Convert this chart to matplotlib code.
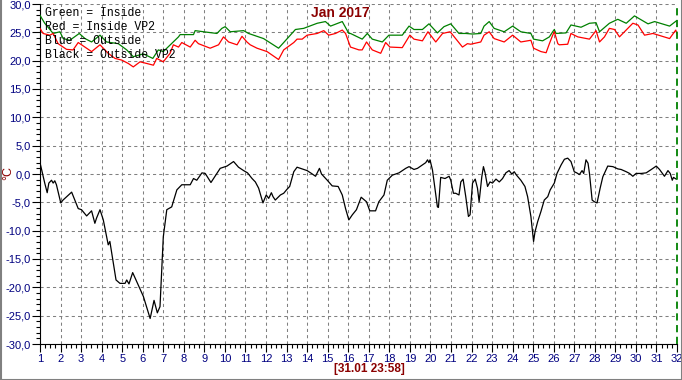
import numpy as np
import matplotlib
matplotlib.use("Agg")
import matplotlib.pyplot as plt
import matplotlib.ticker as mticker
from matplotlib.lines import Line2D

# ─── Daten (Tag im Monat, °C) ─────────────────────
green_day = [1.00, 1.23, 1.64, 1.97, 2.13, 2.45, 2.91, 3.19, 3.51, 3.92, 4.24, 4.81, 5.22,
             5.54, 6.03, 6.49, 6.76, 7.00, 7.74, 7.82, 8.47, 8.55, 8.96, 9.61, 9.85, 10.01,
             10.26, 10.91, 11.15, 11.88, 12.61, 12.86, 13.43, 13.83, 14.49, 14.89, 15.14,
             15.71, 16.03, 16.11, 16.68, 16.93, 17.17, 17.66, 17.98, 18.63, 18.96, 19.20,
             19.61, 19.93, 20.34, 20.66, 20.99, 21.39, 21.72, 22.05, 22.45, 22.61, 22.86,
             23.10, 23.59, 24.00, 24.40, 24.89, 25.02, 25.46, 25.79, 25.95, 26.03, 26.11,
             26.60, 26.84, 27.33, 27.74, 28.06, 28.23, 28.71, 29.12, 29.53, 29.93, 30.26,
             30.59, 30.91, 31.64, 31.96]
green_temp = [28.0, 26.6, 24.8, 25.1, 23.9, 23.6, 24.8, 23.9, 23.3, 24.5, 23.3, 23.0, 21.9,
              20.7, 21.2, 20.4, 21.9, 21.6, 24.2, 24.6, 24.6, 25.3, 25.1, 24.8, 25.7, 26.0,
              25.1, 25.3, 24.8, 23.9, 22.2, 23.2, 25.5, 25.7, 26.6, 26.9, 26.1,
              26.9, 24.8, 24.8, 23.8, 24.8, 23.8, 23.3, 24.5, 24.5, 26.1, 25.5,
              25.5, 26.5, 24.9, 26.0, 26.5, 24.8, 24.8, 24.7, 24.8, 26.1, 26.9,
              25.7, 25.1, 26.1, 25.1, 24.8, 23.8, 23.5, 24.2, 25.1, 25.5, 24.8,
              24.9, 26.3, 25.9, 26.6, 26.7, 25.1, 26.6, 27.3, 26.6, 27.9, 27.2,
              26.5, 26.9, 26.1, 27.0]

red_day = [1.00, 1.15, 1.48, 1.64, 1.88, 2.29, 2.61, 2.86, 3.51, 3.92, 4.32, 4.65, 4.98,
           5.30, 5.54, 5.87, 6.20, 6.52, 6.68, 7.00, 7.33, 7.49, 7.74, 7.90, 8.31, 8.55,
           8.71, 9.28, 9.69, 9.93, 10.18, 10.59, 10.83, 11.07, 11.23, 11.56, 12.05, 12.61,
           12.86, 13.35, 13.51, 13.76, 14.00, 14.49, 14.81, 15.05, 15.38, 15.71, 15.87,
           16.11, 16.52, 16.68, 16.89, 17.17, 17.58, 17.82, 18.03, 18.63, 19.00, 19.20,
           19.61, 19.88, 20.26, 20.59, 20.96, 21.56, 21.80, 21.96, 22.45, 22.61, 22.86,
           23.10, 23.59, 24.00, 24.40, 24.89, 25.02, 25.38, 25.63, 25.79, 25.95, 26.03,
           26.20, 26.27, 26.68, 26.84, 27.17, 27.74, 28.06, 28.23, 28.47, 28.71, 28.96,
           29.20, 29.85, 30.10, 30.42, 30.83, 31.64, 31.94, 31.98]
red_temp = [25.7, 24.8, 24.5, 24.8, 23.0, 22.0, 21.9, 23.2, 21.6, 22.8, 21.3, 20.4, 20.1,
            19.5, 18.9, 19.8, 19.5, 19.2, 20.4, 19.8, 21.3, 22.8, 22.4, 23.2, 22.4, 23.6,
            23.0, 22.2, 22.8, 24.2, 23.3, 22.8, 24.3, 23.3, 22.8, 22.2, 21.6, 20.2,
            21.9, 23.2, 23.8, 23.8, 24.5, 24.8, 25.3, 24.5, 24.8, 25.4, 24.8,
            22.4, 21.9, 21.9, 23.3, 21.9, 21.3, 23.2, 22.4, 22.3, 24.5, 23.8,
            23.5, 25.1, 23.3, 24.8, 25.1, 22.4, 23.0, 22.9, 23.3, 24.5, 25.1,
            23.9, 23.3, 24.5, 23.3, 23.6, 22.2, 21.6, 21.4, 23.0, 24.5, 25.1,
            23.0, 22.8, 22.9, 24.8, 24.2, 23.8, 25.3, 23.3, 24.2, 25.7, 25.5,
            24.2, 26.6, 26.3, 24.5, 24.8, 23.9, 25.4, 24.9]

black_day = [1.00, 1.12, 1.23, 1.35, 1.43, 1.56, 1.64, 1.72, 1.80, 2.01, 2.12, 2.54, 2.86,
             3.02, 3.27, 3.51, 3.67, 3.75, 3.92, 4.08, 4.32, 4.40, 4.57, 4.70, 4.89, 5.14,
             5.22, 5.33, 5.51, 5.71, 6.03, 6.36, 6.55, 6.71, 6.84, 7.00, 7.17, 7.41, 7.66,
             7.90, 8.31, 8.47, 8.63, 8.88, 9.04, 9.32, 9.77, 10.10, 10.42, 10.66, 10.91,
             11.10, 11.32, 11.48, 11.64, 11.85, 12.01, 12.13, 12.26, 12.34, 12.45, 12.70,
             12.86, 13.02, 13.15, 13.35, 13.51, 13.76, 14.00, 14.21, 14.41, 14.60, 14.70,
             14.98, 15.22, 15.51, 15.71, 15.87, 16.03, 16.20, 16.40, 16.63, 16.89, 17.05,
             17.33, 17.49, 17.74, 17.90, 18.15, 18.47, 18.80, 18.96, 19.20, 19.37, 19.61,
             19.77, 19.86, 19.93, 19.98, 20.10, 20.34, 20.39, 20.50, 20.71, 20.91, 20.99,
             21.12, 21.23, 21.39, 21.48, 21.59, 21.72, 21.85, 21.93, 22.05, 22.18, 22.29,
             22.37, 22.50, 22.58, 22.66, 22.78, 22.90, 23.02, 23.19, 23.35, 23.51, 23.67,
             23.83, 23.96, 24.08, 24.19, 24.40, 24.60, 24.73, 24.89, 25.02, 25.09, 25.22,
             25.38, 25.54, 25.71, 25.83, 26.03, 26.16, 26.36, 26.52, 26.68, 26.84, 27.00,
             27.12, 27.25, 27.38, 27.46, 27.57, 27.67, 27.74, 27.87, 27.98, 28.11, 28.26,
             28.39, 28.63, 28.88, 29.12, 29.28, 29.53, 29.69, 29.85, 30.01, 30.26, 30.50,
             30.75, 30.99, 31.15, 31.39, 31.56, 31.67, 31.77, 31.83, 31.96]
black_temp = [2.0, 0.1, -1.6, -3.3, -1.6, -1.1, -1.6, -1.2, -1.9, -5.1, -4.6, -3.2, -6.1,
              -6.3, -7.4, -6.5, -8.7, -7.8, -6.3, -8.1, -12.5, -11.9, -15.8, -18.7, -19.3, -19.3,
              -18.7, -19.4, -17.4, -19.0, -21.6, -25.5, -22.3, -24.5, -23.4, -11.1, -6.3, -5.8, -2.8,
              -1.9, -1.9, -0.8, -1.1, 0.2, 0.1, -1.5, 1.0, 1.4, 2.2, 1.2, 0.6,
              0.2, -0.8, -1.4, -2.5, -5.1, -3.7, -4.3, -3.3, -4.0, -4.6, -3.7,
              -3.4, -2.7, -2.2, 0.4, 1.2, 0.9, 0.6, 0.1, -0.4, 1.0, 0.0,
              -1.1, -2.1, -2.2, -3.7, -6.1, -8.1, -7.2, -6.3, -4.1, -4.9, -6.5,
              -6.5, -4.9, -3.7, -1.1, -0.2, 0.2, 1.0, 1.3, 0.8, 1.0, 1.6,
              2.0, 2.5, 2.0, 2.5, 0.7, -5.8, -5.9, -0.6, -0.8, -0.4, -1.1,
              -3.4, -3.4, -3.7, -1.4, -0.9, -4.0, -7.5, -7.2, -1.6, -0.9, -2.5,
              -4.9, -0.5, 1.3, 0.2, -2.2, -1.4, -1.6, -0.9, -1.4, -0.8, 0.2,
              0.6, 0.0, 0.4, -0.2, -1.1, -2.2, -4.0, -7.5, -11.9, -10.2, -8.4,
              -6.6, -4.6, -4.0, -2.8, -1.6, 0.1, 1.6, 2.6, 2.8, 2.2, 0.4,
              0.2, -0.1, 0.6, 0.1, 2.5, 1.9, 0.1, -4.6, -4.9, -5.1, -2.5,
              -0.5, 1.4, 1.3, 0.9, 0.8, 0.4, 0.1, -0.4, 0.1, 0.1, 0.2,
              0.8, 1.4, 0.8, -0.4, 0.6, 0.1, -1.1, -0.6, -0.9]

legend_lines = ["Green = Inside", "Red = Inside VP2", "Blue = Outside", "Black = Outside VP2"]
x_ticks = list(range(1, 33))
y_ticks = list(range(-30, 31, 5))
now_day = 32

# ─── Figur ────────────────────────────────────────
W, H = 682, 380
fig = plt.figure(figsize=(W / 100, H / 100), dpi=100)
fig.patch.set_facecolor("white")
ax = fig.add_axes([40 / W, 36 / H, 637 / W, 340 / H])
ax.set_facecolor("white")

ax.set_xlim(1, 32)
ax.set_ylim(-30, 30)

# Raster
ax.set_xticks(x_ticks)
ax.set_yticks(y_ticks)
ax.xaxis.set_minor_locator(mticker.MultipleLocator(0.25))
ax.yaxis.set_minor_locator(mticker.MultipleLocator(1))
ax.grid(True, which="major", color="#808080", linewidth=0.75,
        linestyle=(0, (3, 3)), zorder=0)

ax.yaxis.set_major_formatter(plt.FuncFormatter(lambda v, _: f"{v:.1f}".replace(".", ",")))

for s in ("top", "right"):
    ax.spines[s].set_visible(False)
for s in ("left", "bottom"):
    ax.spines[s].set_color("black")
    ax.spines[s].set_linewidth(0.8)

ax.tick_params(which="major", length=5.5, width=0.8, color="black",
               labelcolor="#000080", labelsize=8)
ax.tick_params(which="minor", length=3, width=0.8, color="black")
ax.tick_params(axis="y", pad=1)
ax.tick_params(axis="x", pad=2)
for lab in ax.get_xticklabels() + ax.get_yticklabels():
    lab.set_fontfamily("Liberation Sans")

# Kurven
ax.plot(green_day, green_temp, color="#008000", linewidth=0.9, zorder=3)
ax.plot(red_day, red_temp, color="#ff0000", linewidth=0.9, zorder=4)
ax.plot(black_day, black_temp, color="black", linewidth=0.9, zorder=5)

# aktueller Zeitpunkt
ax.axvline(now_day, color="#008000", linewidth=1.3, linestyle=(0, (4, 2.5)),
           zorder=6, clip_on=False)

# Beschriftung
for i, txt in enumerate(legend_lines):
    fig.text(45 / W, 1 - (13 + 14 * i) / H, txt, fontsize=8.3,
             family="Liberation Mono", color="black", ha="left", va="center", zorder=10)

fig.text(340 / W, 1 - 13 / H, "Jan 2017", fontsize=10, fontweight="bold",
         color="#8B0000", family="Liberation Sans", ha="center", va="center")
fig.text(369 / W, 1 - 369 / H, "[31.01 23:58]", fontsize=8.5, fontweight="bold",
         color="#8B0000", family="Liberation Sans", ha="center", va="center")
fig.text(8 / W, 1 - 173 / H, "°C", fontsize=9, rotation=90,
         color="#8B0000", family="Liberation Sans", ha="center", va="center")

# grauer Rahmen
for xs, ys in [([0.5 / W, 0.5 / W], [0, 1]),
               ([1 - 0.5 / W, 1 - 0.5 / W], [0, 1]),
               ([0, 1], [0.5 / H, 0.5 / H])]:
    fig.add_artist(Line2D(xs, ys, color="#808080", linewidth=1.5))

fig.savefig("out.png", dpi=100, facecolor="white")
